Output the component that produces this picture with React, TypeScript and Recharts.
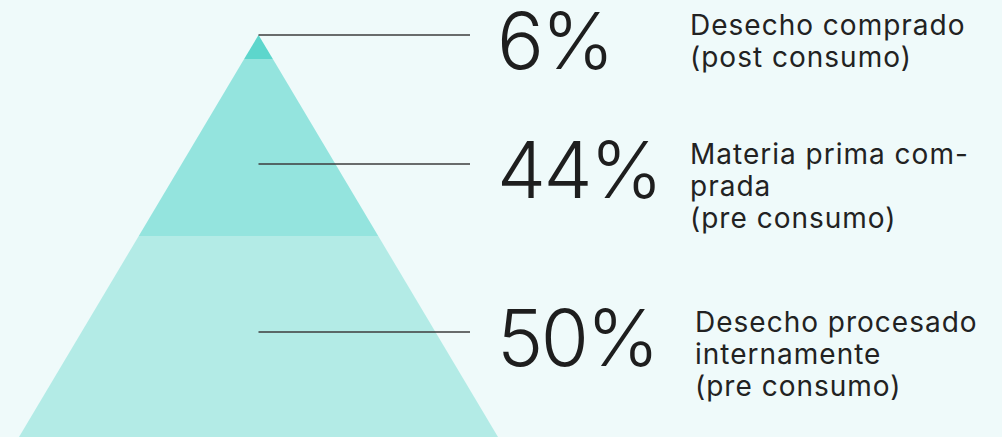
import React from 'react';
import { BarChart, Bar, XAxis, YAxis, LabelList } from 'recharts';

// bottom to top of the pyramid
const seriesKeys = ['interno', 'materiaPrima', 'postConsumo'];
const shares = [50, 44, 6];
const labelLines = [
  ['Desecho procesado', 'internamente', '(pre consumo)'],
  ['Materia prima com-', 'prada', '(pre consumo)'],
  ['Desecho comprado', '(post consumo)'],
];
const colors = ['#b3ebe6', '#94e4de', '#5dd6cc'];

const total = shares.reduce((a, b) => a + b, 0);
const row: Record<string, number | string> = { name: 'mix' };
seriesKeys.forEach((k, i) => {
  row[k] = shares[i];
});
const data = [row];

// where the leader line sits inside each band, as a share of its height
const lineAt = [0.478, 0.593, 0];
const textX = [695, 690, 690];

function trapezoid(i: number) {
  return (props: any) => {
    const { x, y, width, height, fill } = props;
    if (!height) return null;
    const perUnit = height / shares[i];
    const below = shares.slice(0, i).reduce((a, b) => a + b, 0);
    const base = y + height + below * perUnit;
    const apex = base - total * perUnit;
    const cx = x + width / 2;
    const half = (py: number) => ((width / 2) * (py - apex)) / (base - apex);
    const top = y;
    const bot = y + height;
    const pts = [
      [cx - half(top), top],
      [cx + half(top), top],
      [cx + half(bot), bot],
      [cx - half(bot), bot],
    ]
      .map((p) => p.join(','))
      .join(' ');
    return <polygon points={pts} fill={fill} />;
  };
}

function callout(i: number) {
  return (props: any) => {
    const { x, y, width, height } = props;
    const cx = x + width / 2;
    const ly = y + height * lineAt[i];
    return (
      <g>
        <line x1={cx} y1={ly} x2={470} y2={ly} stroke="#3d3d3d" strokeWidth={1.5} />
        <text
          x={497}
          y={ly + 34}
          fontFamily="Inter"
          fontWeight={300}
          fontSize={78}
          letterSpacing={-2.5}
          fill="#1e1e1e"
        >
          {shares[i]}%
        </text>
        <text fontFamily="Inter" fontSize={28} fill="#222" letterSpacing={1}>
          {labelLines[i].map((t, j) => (
            <tspan key={j} x={textX[i]} y={ly + j * 32}>
              {t}
            </tspan>
          ))}
        </text>
      </g>
    );
  };
}

export default function App() {
  return (
    <div
      style={{
        position: 'absolute',
        left: 0,
        top: 0,
        width: 1002,
        height: 437,
        background: '#effafa',
      }}
    >
      <BarChart
        width={1002}
        height={437}
        data={data}
        barSize={479}
        margin={{ top: 35, right: 485, bottom: 0, left: 0 }}
      >
        <XAxis dataKey="name" hide />
        <YAxis hide domain={[0, total]} />
        {seriesKeys.map((k, i) => (
          <Bar
            key={k}
            dataKey={k}
            stackId="p"
            fill={colors[i]}
            shape={trapezoid(i)}
            isAnimationActive={false}
          >
            <LabelList dataKey={k} content={callout(i)} />
          </Bar>
        ))}
      </BarChart>
    </div>
  );
}
